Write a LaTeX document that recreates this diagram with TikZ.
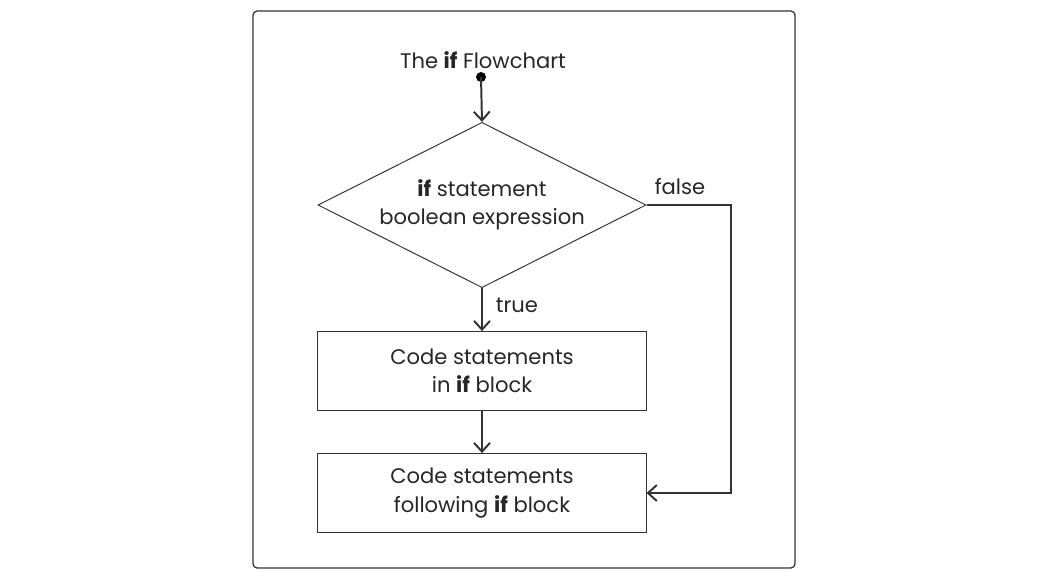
\documentclass[tikz,border=0pt]{standalone}
\usepackage{fontspec}
\setmainfont{Poppins}
\usetikzlibrary{arrows.meta}
\usetikzlibrary{shapes.geometric}
\usetikzlibrary{positioning}

\begin{document}
\begin{tikzpicture}[x=0.025cm, y=-0.025cm,
        font=\fontsize{15}{20}\selectfont,
        every node/.style={text=black!85},
        shapebox/.style={draw=black!80, line width=0.7pt, rectangle,
            minimum width=8.2cm, minimum height=1.97cm, align=center, inner sep=0pt},
        decision/.style={draw=black!80, line width=0.7pt, diamond, aspect=1.79,
            minimum width=8.2cm, align=center, inner sep=0pt},
        flow/.style={draw=black!80, line width=1.4pt,
            -{Straight Barb[length=2.2mm, width=4mm]}}]
                \useasboundingbox (0,0) rectangle (1050,579);
                
                \draw[black!80, line width=0.9pt, rounded corners=3pt] (253,11) rectangle (795,568);
                
                \node (title) at (483,60) {The \textbf{if} Flowchart};
                \fill[black] (481,77) circle (5) coordinate (start);
                
                \node[decision] (cond) at (482,205) {\textbf{if} statement\\boolean expression};
                \node[shapebox] (ifblock) at (482,371) {Code statements\\in \textbf{if} block};
                \node[shapebox] (after) at (482,493) {Code statements\\following \textbf{if} block};
                
                \coordinate (corner) at (731,205);
                
                \draw[flow] (start) -- (cond.north);
                \draw[flow] (cond.south) -- (ifblock.north);
                \draw[flow] (ifblock.south) -- (after.north);
                \draw[flow] (cond.east) -- (corner) |- (after.east);
                
                \node (false) at (680,187) {false};
                \node (true) at (517,305) {true};
            \end{tikzpicture}
\end{document}
